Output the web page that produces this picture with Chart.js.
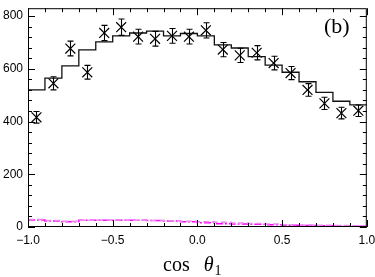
<!DOCTYPE html>
<html>
<head>
<meta charset="utf-8">
<script src="https://cdn.jsdelivr.net/npm/chart.js@4/dist/chart.umd.min.js"></script>
<style>
  html, body { margin: 0; padding: 0; background: #fff; }
  #wrap { width: 375px; height: 277px; }
</style>
</head>
<body>
<div id="wrap"><canvas id="cosChart" width="375" height="277"></canvas></div>
<script>
// bins of cos theta_1, width 0.1
var binEdges = [-1.0, -0.9, -0.8, -0.7, -0.6, -0.5, -0.4, -0.3, -0.2, -0.1, 0.0,
                0.1, 0.2, 0.3, 0.4, 0.5, 0.6, 0.7, 0.8, 0.9, 1.0];
var binCenters = [-0.95, -0.85, -0.75, -0.65, -0.55, -0.45, -0.35, -0.25, -0.15, -0.05,
                  0.05, 0.15, 0.25, 0.35, 0.45, 0.55, 0.65, 0.75, 0.85, 0.95];
// fit histogram (solid)
var fitValues = [520, 565, 611, 672, 702, 725, 736, 743, 725, 734,
                 725, 691, 679, 646, 614, 587, 551, 511, 477, 463];
// measured points with errors
var dataValues = [416, 545, 677, 587, 736, 758, 722, 714, 725, 722,
                  746, 673, 651, 661, 622, 584, 520, 469, 432, 441];
var dataErrors = [22, 25, 28, 26, 29, 31, 28, 28, 28, 28,
                  29, 27, 27, 27, 26, 25, 24, 23, 22, 22];
// background components (dash-dot)
var bkgA = [27, 23, 20, 26, 26, 26, 26, 25, 23, 20, 16, 12, 11, 10, 9, 7, 6, 5, 4, 3];
var bkgB = [28, 25, 22, 26, 27, 27, 26, 25, 24, 22, 20, 18, 15, 13, 11, 9, 8, 7, 6, 5];
var yTicks = [0, 200, 400, 600, 800];
var xTicks = [-1.0, -0.5, 0.0, 0.5, 1.0];

function stepPoints(vals) {
    var pts = [];
    for (var i = 0; i < vals.length; i++) {
        pts.push({ x: binEdges[i], y: vals[i] });
    }
    pts.push({ x: binEdges[binEdges.length - 1], y: vals[vals.length - 1] });
    return pts;
}

var pointData = binCenters.map(function (x, i) {
    return { x: x, y: dataValues[i], e: dataErrors[i] };
});

// inward ticks on all four sides + frame
var framePlugin = {
    id: 'frame',
    afterDraw: function (chart) {
        var ctx = chart.ctx, a = chart.chartArea;
        var xs = chart.scales.x, ys = chart.scales.y;
        ctx.save();
        ctx.strokeStyle = '#000';
        ctx.lineWidth = 1;
        ctx.strokeRect(a.left + 0.5, a.top + 0.5, a.right - a.left - 1, a.bottom - a.top - 1);
        ctx.beginPath();
        for (var v = -1.0; v <= 1.0001; v += 0.1) {
            var px = Math.round(xs.getPixelForValue(v)) + 0.5;
            var major = Math.abs(v * 2 - Math.round(v * 2)) < 1e-6;
            var len = major ? 7 : 4;
            ctx.moveTo(px, a.bottom); ctx.lineTo(px, a.bottom - len);
            ctx.moveTo(px, a.top); ctx.lineTo(px, a.top + len);
        }
        for (var w = 0; w <= 830; w += 40) {
            var py = Math.round(ys.getPixelForValue(w)) + 0.5;
            var maj = w % 200 === 0;
            var l2 = maj ? 7 : 4;
            ctx.moveTo(a.left, py); ctx.lineTo(a.left + l2, py);
            ctx.moveTo(a.right, py); ctx.lineTo(a.right - l2, py);
        }
        ctx.stroke();

        // axis title: cos theta_1
        ctx.fillStyle = '#000';
        ctx.textBaseline = 'alphabetic';
        ctx.textAlign = 'left';
        var x0 = 163, base = 271;
        ctx.font = '20px "Liberation Serif", "DejaVu Serif", serif';
        ctx.fillText('cos', x0, base);
        var wCos = ctx.measureText('cos ').width;
        ctx.font = 'italic 20px "Liberation Serif", "DejaVu Serif", serif';
        var thX = x0 + wCos + 9;
        ctx.fillText('\u03b8', thX, base);
        var wTh = ctx.measureText('\u03b8').width;
        ctx.font = '14px "Liberation Serif", "DejaVu Serif", serif';
        ctx.fillText('1', thX + wTh + 1, base + 4);

        // panel label
        ctx.font = '22px "Liberation Serif", "DejaVu Serif", serif';
        ctx.fillText('(b)', 324, 33);
        ctx.restore();
    }
};

// vertical error bars with small caps
var errorBarPlugin = {
    id: 'errorBars',
    afterDatasetsDraw: function (chart) {
        var ctx = chart.ctx, ys = chart.scales.y;
        var meta = chart.getDatasetMeta(3);
        ctx.save();
        ctx.strokeStyle = '#000';
        ctx.lineWidth = 1.1;
        ctx.beginPath();
        meta.data.forEach(function (el, i) {
            var d = pointData[i];
            var x = Math.round(el.x) + 0.5;
            var yt = ys.getPixelForValue(d.y + d.e);
            var yb = ys.getPixelForValue(d.y - d.e);
            ctx.moveTo(x, yt); ctx.lineTo(x, yb);
            ctx.moveTo(x - 3, yt); ctx.lineTo(x + 3, yt);
            ctx.moveTo(x - 3, yb); ctx.lineTo(x + 3, yb);
        });
        ctx.stroke();
        ctx.restore();
    }
};

var ctx = document.getElementById('cosChart').getContext('2d');
new Chart(ctx, {
    type: 'scatter',
    data: {
        datasets: [{
            label: 'bkgB',
            type: 'line',
            data: stepPoints(bkgB),
            stepped: 'before',
            borderColor: '#ee88ee',
            borderWidth: 1.5,
            borderDash: [6, 3],
            pointRadius: 0,
            fill: false
        }, {
            label: 'bkgA',
            type: 'line',
            data: stepPoints(bkgA),
            stepped: 'before',
            borderColor: '#ff00ff',
            borderWidth: 1.5,
            borderDash: [7, 2, 2, 2],
            pointRadius: 0,
            fill: false
        }, {
            label: 'fit',
            type: 'line',
            data: stepPoints(fitValues),
            stepped: 'before',
            borderColor: '#111',
            borderWidth: 1.3,
            pointRadius: 0,
            fill: false
        }, {
            label: 'data',
            data: pointData,
            pointStyle: 'crossRot',
            pointRadius: 7,
            pointBorderWidth: 1.2,
            borderColor: '#000',
            backgroundColor: '#000'
        }]
    },
    options: {
        responsive: false,
        animation: false,
        layout: { padding: { top: 1, right: 8, left: 0, bottom: 0 } },
        plugins: {
            legend: { display: false },
            tooltip: { enabled: false }
        },
        scales: {
            x: {
                type: 'linear',
                min: -1.0,
                max: 1.0,
                grid: { display: false, drawTicks: false },
                border: { display: false },
                afterFit: function (s) {
                    s.height = 50;
                    s.paddingLeft = 0;
                    s.paddingRight = 0;
                },
                afterBuildTicks: function (s) {
                    s.ticks = xTicks.map(function (v) { return { value: v }; });
                },
                ticks: {
                    padding: 6,
                    maxRotation: 0,
                    color: '#000',
                    font: { family: '"Liberation Sans", Arial, sans-serif', size: 12 },
                    callback: function (v) {
                        return v < 0 ? '\u2212' + Math.abs(v).toFixed(1) : v.toFixed(1);
                    }
                }
            },
            y: {
                min: 0,
                max: 830,
                grid: { display: false, drawTicks: false },
                border: { display: false },
                afterFit: function (s) {
                    s.width = 28;
                    s.paddingTop = 0;
                    s.paddingBottom = 0;
                },
                afterBuildTicks: function (s) {
                    s.ticks = yTicks.map(function (v) { return { value: v }; });
                },
                ticks: {
                    padding: 5,
                    color: '#000',
                    font: { family: '"Liberation Sans", Arial, sans-serif', size: 12 }
                }
            }
        }
    },
    plugins: [framePlugin, errorBarPlugin]
});
</script>
</body>
</html>
